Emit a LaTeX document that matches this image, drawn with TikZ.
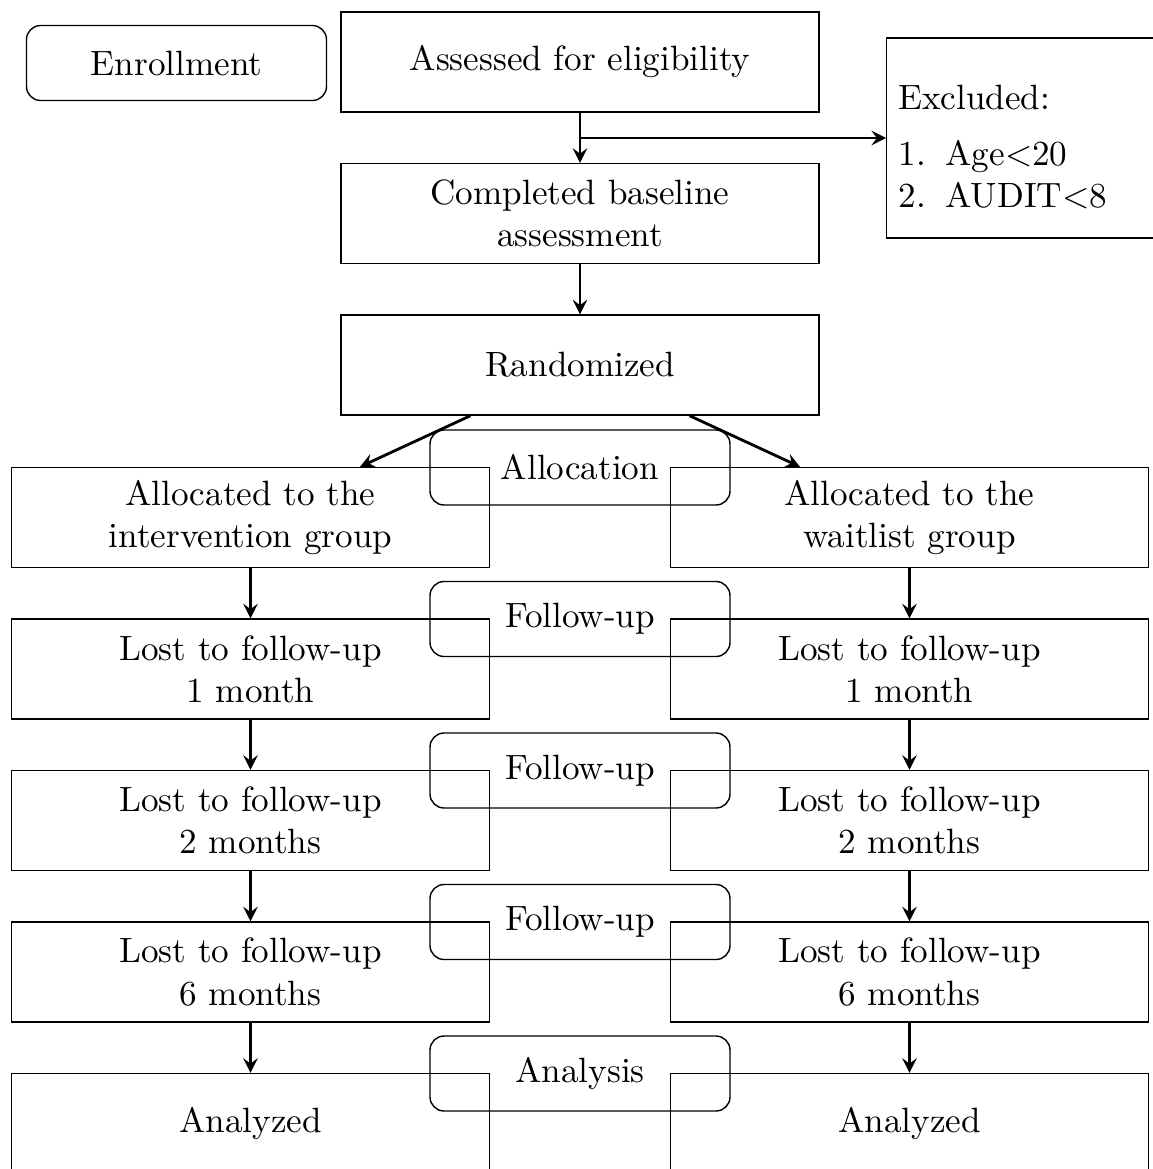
\documentclass[tikz,border=0pt]{standalone}
\tikzset{
  box/.style={draw, minimum width=4.78cm, minimum height=1cm, align=center},
  phase/.style={draw, rounded corners, minimum width=3cm, minimum height=0.75cm},
  arr/.style={->, >=stealth, thick}
}
\begin{document}
\begin{tikzpicture}
\clip (0,0) rectangle (11.53,-11.69);
\node[phase] (enroll) at (1.765,-0.63) {Enrollment};
\node[box] (assess) at (5.8,-0.62) {Assessed for eligibility};
\node[box] (base) at (5.8,-2.135) {Completed baseline\\assessment};
\node[box] (rand) at (5.8,-3.65) {Randomized};
\node[draw, anchor=west, text width=3cm, minimum height=2cm, align=left] (excl) at (8.86,-1.38)
  {\rule{0pt}{12pt}Excluded:\\[4pt]\makebox[13.4pt][l]{1.}Age$<$20\\\makebox[13.4pt][l]{2.}AUDIT$<$8};
\draw[arr] (assess) -- (base);
\draw[arr] (assess.south |- excl.west) -- (excl.west);
\draw[arr] (base) -- (rand);
% the two groups
\node[box] (L0) at (2.505,-5.175) {Allocated to the\\intervention group};
\node[box] (R0) at (9.095,-5.175) {Allocated to the\\waitlist group};
\draw[arr] (rand) -- (L0);
\draw[arr] (rand) -- (R0);
\foreach \i/\t in {1/{Lost to follow-up\\1 month},2/{Lost to follow-up\\2 months},3/{Lost to follow-up\\6 months},4/Analyzed} {
  \pgfmathtruncatemacro\j{\i-1}
  \node[box] (L\i) at (2.505,-5.175-1.515*\i) {\t};
  \node[box] (R\i) at (9.095,-5.175-1.515*\i) {\t};
  \draw[arr] (L\j) -- (L\i);
  \draw[arr] (R\j) -- (R\i);
}
% phase labels
\foreach \i/\t in {0/Allocation,1/Follow-up,2/Follow-up,3/Follow-up,4/Analysis}
  \node[phase] (P\i) at (5.8,-4.675-1.515*\i) {\t};
\end{tikzpicture}
\end{document}
